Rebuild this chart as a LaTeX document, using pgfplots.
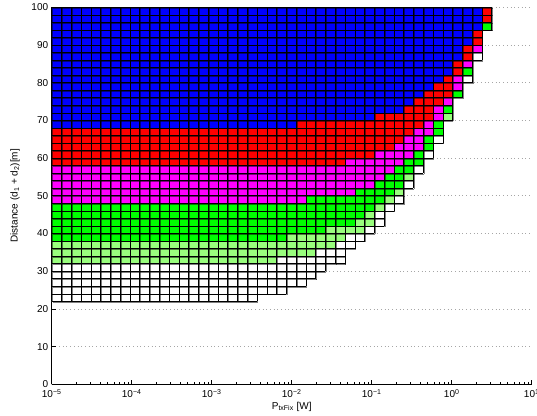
\documentclass[border=0pt]{standalone}
\usepackage{fontspec}
\setmainfont{Liberation Sans}
\usepackage{pgfplots}
\usepackage{pgfplotstable}
\pgfplotsset{compat=1.18}
\definecolor{cB}{rgb}{0,0,1}
\definecolor{cR}{rgb}{1,0,0}
\definecolor{cM}{rgb}{1,0,1}
\definecolor{cG}{rgb}{0,1,0}
\definecolor{cL}{RGB}{153,255,125}
\definecolor{cW}{rgb}{1,1,1}

% cells per row (row centre y), counted from the left: blue, red, magenta, green, light green, white
\pgfplotstableread{
y B R M G L W
23 0 0 0 0 0 21
25 0 0 0 0 0 24
27 0 0 0 0 0 26
29 0 0 0 0 0 27
31 0 0 0 0 0 28
33 0 0 0 0 23 7
35 0 0 0 0 27 3
37 0 0 0 0 29 2
39 0 0 0 24 6 2
41 0 0 0 28 4 1
43 0 0 0 31 2 1
45 0 0 0 32 1 1
47 0 0 0 33 1 1
49 0 0 26 8 1 1
51 0 0 31 4 1 0
53 0 0 33 3 0 1
55 0 0 34 2 1 0
57 0 0 35 2 0 1
59 0 30 6 2 0 0
61 0 33 4 1 0 1
63 0 35 3 1 0 0
65 0 36 2 1 0 1
67 0 37 2 1 0 0
69 25 13 1 1 0 0
71 33 6 1 0 1 0
73 36 3 1 1 0 0
75 37 3 1 0 0 0
77 38 3 0 1 0 0
79 39 2 1 0 0 0
81 40 1 1 0 0 1
83 41 1 0 1 0 0
85 41 1 1 0 0 0
87 42 1 0 0 0 1
89 42 1 1 0 0 0
91 43 1 0 0 0 0
93 43 1 0 0 0 0
95 44 0 0 1 0 0
97 44 1 0 0 0 0
99 44 1 0 0 0 0
}\cells

% horizontal cell borders
\pgfplotstableread{
x y
0 22
21 22
nan nan
0 24
24 24
nan nan
0 26
26 26
nan nan
0 28
27 28
nan nan
0 30
28 30
nan nan
0 32
30 32
nan nan
0 34
30 34
nan nan
0 36
31 36
nan nan
0 38
32 38
nan nan
0 40
33 40
nan nan
0 42
34 42
nan nan
0 44
34 44
nan nan
0 46
35 46
nan nan
0 48
36 48
nan nan
0 50
36 50
nan nan
0 52
37 52
nan nan
0 54
37 54
nan nan
0 56
38 56
nan nan
0 58
38 58
nan nan
0 60
39 60
nan nan
0 62
39 62
nan nan
0 64
40 64
nan nan
0 66
40 66
nan nan
0 68
40 68
nan nan
0 70
41 70
nan nan
0 72
41 72
nan nan
0 74
41 74
nan nan
0 76
42 76
nan nan
0 78
42 78
nan nan
0 80
43 80
nan nan
0 82
43 82
nan nan
0 84
43 84
nan nan
0 86
44 86
nan nan
0 88
44 88
nan nan
0 90
44 90
nan nan
0 92
44 92
nan nan
0 94
45 94
nan nan
0 96
45 96
nan nan
0 98
45 98
nan nan
0 100
45 100
}\hlines

% vertical cell borders
\pgfplotstableread{
x y
0 22
0 100
nan nan
1 22
1 100
nan nan
2 22
2 100
nan nan
3 22
3 100
nan nan
4 22
4 100
nan nan
5 22
5 100
nan nan
6 22
6 100
nan nan
7 22
7 100
nan nan
8 22
8 100
nan nan
9 22
9 100
nan nan
10 22
10 100
nan nan
11 22
11 100
nan nan
12 22
12 100
nan nan
13 22
13 100
nan nan
14 22
14 100
nan nan
15 22
15 100
nan nan
16 22
16 100
nan nan
17 22
17 100
nan nan
18 22
18 100
nan nan
19 22
19 100
nan nan
20 22
20 100
nan nan
21 22
21 100
nan nan
22 24
22 100
nan nan
23 24
23 100
nan nan
24 24
24 100
nan nan
25 26
25 100
nan nan
26 26
26 100
nan nan
27 28
27 100
nan nan
28 30
28 100
nan nan
29 32
29 100
nan nan
30 32
30 100
nan nan
31 36
31 100
nan nan
32 38
32 100
nan nan
33 40
33 100
nan nan
34 42
34 100
nan nan
35 46
35 100
nan nan
36 48
36 100
nan nan
37 52
37 100
nan nan
38 56
38 100
nan nan
39 60
39 100
nan nan
40 64
40 100
nan nan
41 70
41 100
nan nan
42 76
42 100
nan nan
43 80
43 100
nan nan
44 86
44 100
nan nan
45 94
45 100
}\vlines

\pgfplotsset{
  cellaxis/.style={width=480pt, height=377pt, scale only axis,
    xmin=0, xmax=49.0909, ymin=0, ymax=100, hide axis},
}

\begin{document}
\fontsize{10}{12}\selectfont
\begin{tikzpicture}
\begin{axis}[name=main,
  width=480pt, height=377pt, scale only axis,
  xmode=log, xmin=1e-5, xmax=10, ymin=0, ymax=100,
  axis x line*=bottom, axis y line*=left,
  axis line style={line width=0.6pt},
  tick align=inside, major tick length=4pt, minor tick length=2pt,
  tick style={line width=0.5pt, black},
  xtick={1e-5,1e-4,1e-3,1e-2,1e-1,1,10},
  xticklabels={10\textsuperscript{−5},10\textsuperscript{−4},10\textsuperscript{−3},10\textsuperscript{−2},10\textsuperscript{−1},10\textsuperscript{0},10\textsuperscript{1}},
  ytick={0,10,20,30,40,50,60,70,80,90,100},
  yticklabels={0,10,20,30,40,50,60,70,80,90,100},
  ticklabel style={font=\fontsize{10}{12}\selectfont},
  xticklabel style={yshift=-1.5pt},
  ymajorgrids,
  major grid style={line width=0.6pt, gray!70, dash pattern=on 0.7pt off 3pt},
  xlabel={P\textsubscript{txFix} [W]},
  ylabel={Distance (d\textsubscript{1} + d\textsubscript{2})[m]},
  label style={font=\fontsize{10}{12}\selectfont},
  xlabel style={yshift=3pt},
  ylabel style={yshift=5pt},
]
\end{axis}
\begin{axis}[cellaxis, xbar stacked, bar width=2]
\addplot[fill=cB, draw=none] table[x=B, y=y] {\cells};
\addplot[fill=cR, draw=none] table[x=R, y=y] {\cells};
\addplot[fill=cM, draw=none] table[x=M, y=y] {\cells};
\addplot[fill=cG, draw=none] table[x=G, y=y] {\cells};
\addplot[fill=cL, draw=none] table[x=L, y=y] {\cells};
\addplot[fill=cW, draw=none] table[x=W, y=y] {\cells};
\end{axis}
\begin{axis}[cellaxis, unbounded coords=jump, clip=false]
\addplot[black, draw opacity=0.5, line width=0.9pt, xshift=0.9pt, yshift=-0.9pt, mark=none] table[x=x, y=y] {\hlines};
\addplot[black, draw opacity=0.5, line width=0.9pt, xshift=0.9pt, yshift=-0.9pt, mark=none] table[x=x, y=y] {\vlines};
\addplot[black, line width=0.6pt, mark=none] table[x=x, y=y] {\hlines};
\addplot[black, line width=0.6pt, mark=none] table[x=x, y=y] {\vlines};
\end{axis}
\pgfresetboundingbox
\path ([shift={(-51.7pt,-31.7pt)}]main.south west) rectangle ([shift={(5.3pt,7.3pt)}]main.north east);
\end{tikzpicture}
\end{document}
